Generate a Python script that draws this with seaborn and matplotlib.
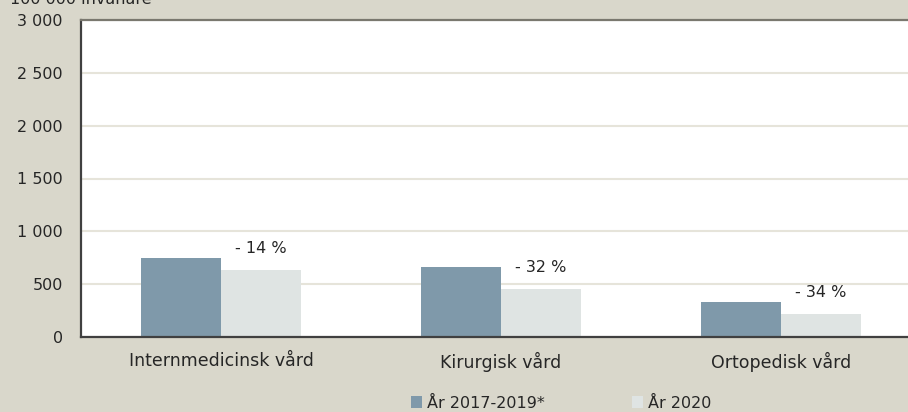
import matplotlib
matplotlib.use("Agg")
import matplotlib.pyplot as plt
import seaborn as sns
import pandas as pd
from matplotlib.patches import Patch
from matplotlib.ticker import FuncFormatter, MultipleLocator, FixedLocator

# Data (per 100 000 invånare)
categories = ["Internmedicinsk vård", "Kirurgisk vård", "Ortopedisk vård"]
series = ["År 2017-2019*", "År 2020"]
values_2017_2019 = [745, 660, 330]
values_2020 = [638, 452, 218]
change_labels = ["- 14 %", "- 32 %", "- 34 %"]
y_label = "100 000 invånare"

colors = ["#7F99AA", "#DFE4E3"]
bg = "#D9D7CB"

df = pd.DataFrame({
    "Vård": categories * 2,
    "Period": [series[0]] * 3 + [series[1]] * 3,
    "Antal": values_2017_2019 + values_2020,
})

sns.set_style("white")
plt.rcParams["font.family"] = ["DejaVu Sans"]
plt.rcParams["text.color"] = "#262626"

W, H = 908, 412
fig = plt.figure(figsize=(W / 100, H / 100), dpi=100, facecolor=bg)
# plot area: x 81..921 px (runs past the right edge), y 20..337 px
ax = fig.add_axes([81 / W, (H - 337) / H, 840 / W, (337 - 20) / H])
ax.set_facecolor("white")

sns.barplot(
    data=df, x="Vård", y="Antal", hue="Period",
    palette=colors, width=0.571, saturation=1, ax=ax, legend=False,
    edgecolor="none",
)

ax.set_xlim(-0.5, 2.5)
ax.set_ylim(0, 3000)
ax.yaxis.set_major_locator(MultipleLocator(500))
ax.yaxis.set_major_formatter(FuncFormatter(lambda v, _: f"{int(v):,}".replace(",", " ")))
ax.grid(axis="y", color="#E6E4DA", linewidth=1.5)
ax.set_axisbelow(True)
ax.set_xlabel("")
ax.set_ylabel("")

ax.tick_params(axis="y", length=0, pad=13, labelsize=11.5, labelcolor="#262626")
ax.tick_params(axis="x", which="major", length=0, pad=11, labelsize=12.5, labelcolor="#262626")
ax.xaxis.set_minor_locator(FixedLocator([0.5, 1.5]))
ax.tick_params(axis="x", which="minor", length=4, width=1, color="#404040", direction="out")

for side in ["left", "bottom"]:
    ax.spines[side].set_color("#404040")
    ax.spines[side].set_linewidth(1.6)
ax.spines["top"].set_color("#7A786F")
ax.spines["top"].set_linewidth(1.6)
ax.spines["right"].set_visible(False)

# change labels above the 2020 bars
bars_2020 = ax.containers[1]
for bar, lab in zip(bars_2020, change_labels):
    ax.annotate(lab, (bar.get_x() + bar.get_width() / 2, bar.get_height()),
                xytext=(0, 15.5), textcoords="offset points",
                ha="center", va="center", fontsize=11.5)

# unit text, cut off by the top edge as in the original
fig.text(10 / W, 1.0 - 4 / H, y_label, ha="left", va="baseline", fontsize=11.5)

handles = [Patch(facecolor=c, edgecolor="none") for c in colors]
fig.legend(handles, series, loc="center", bbox_to_anchor=(561 / W, (H - 403) / H),
           ncol=2, frameon=False, fontsize=11.5, handlelength=0.7, handleheight=0.7,
           handletextpad=0.3, columnspacing=5.5)

fig.savefig("out.png", dpi=100, facecolor=bg)
